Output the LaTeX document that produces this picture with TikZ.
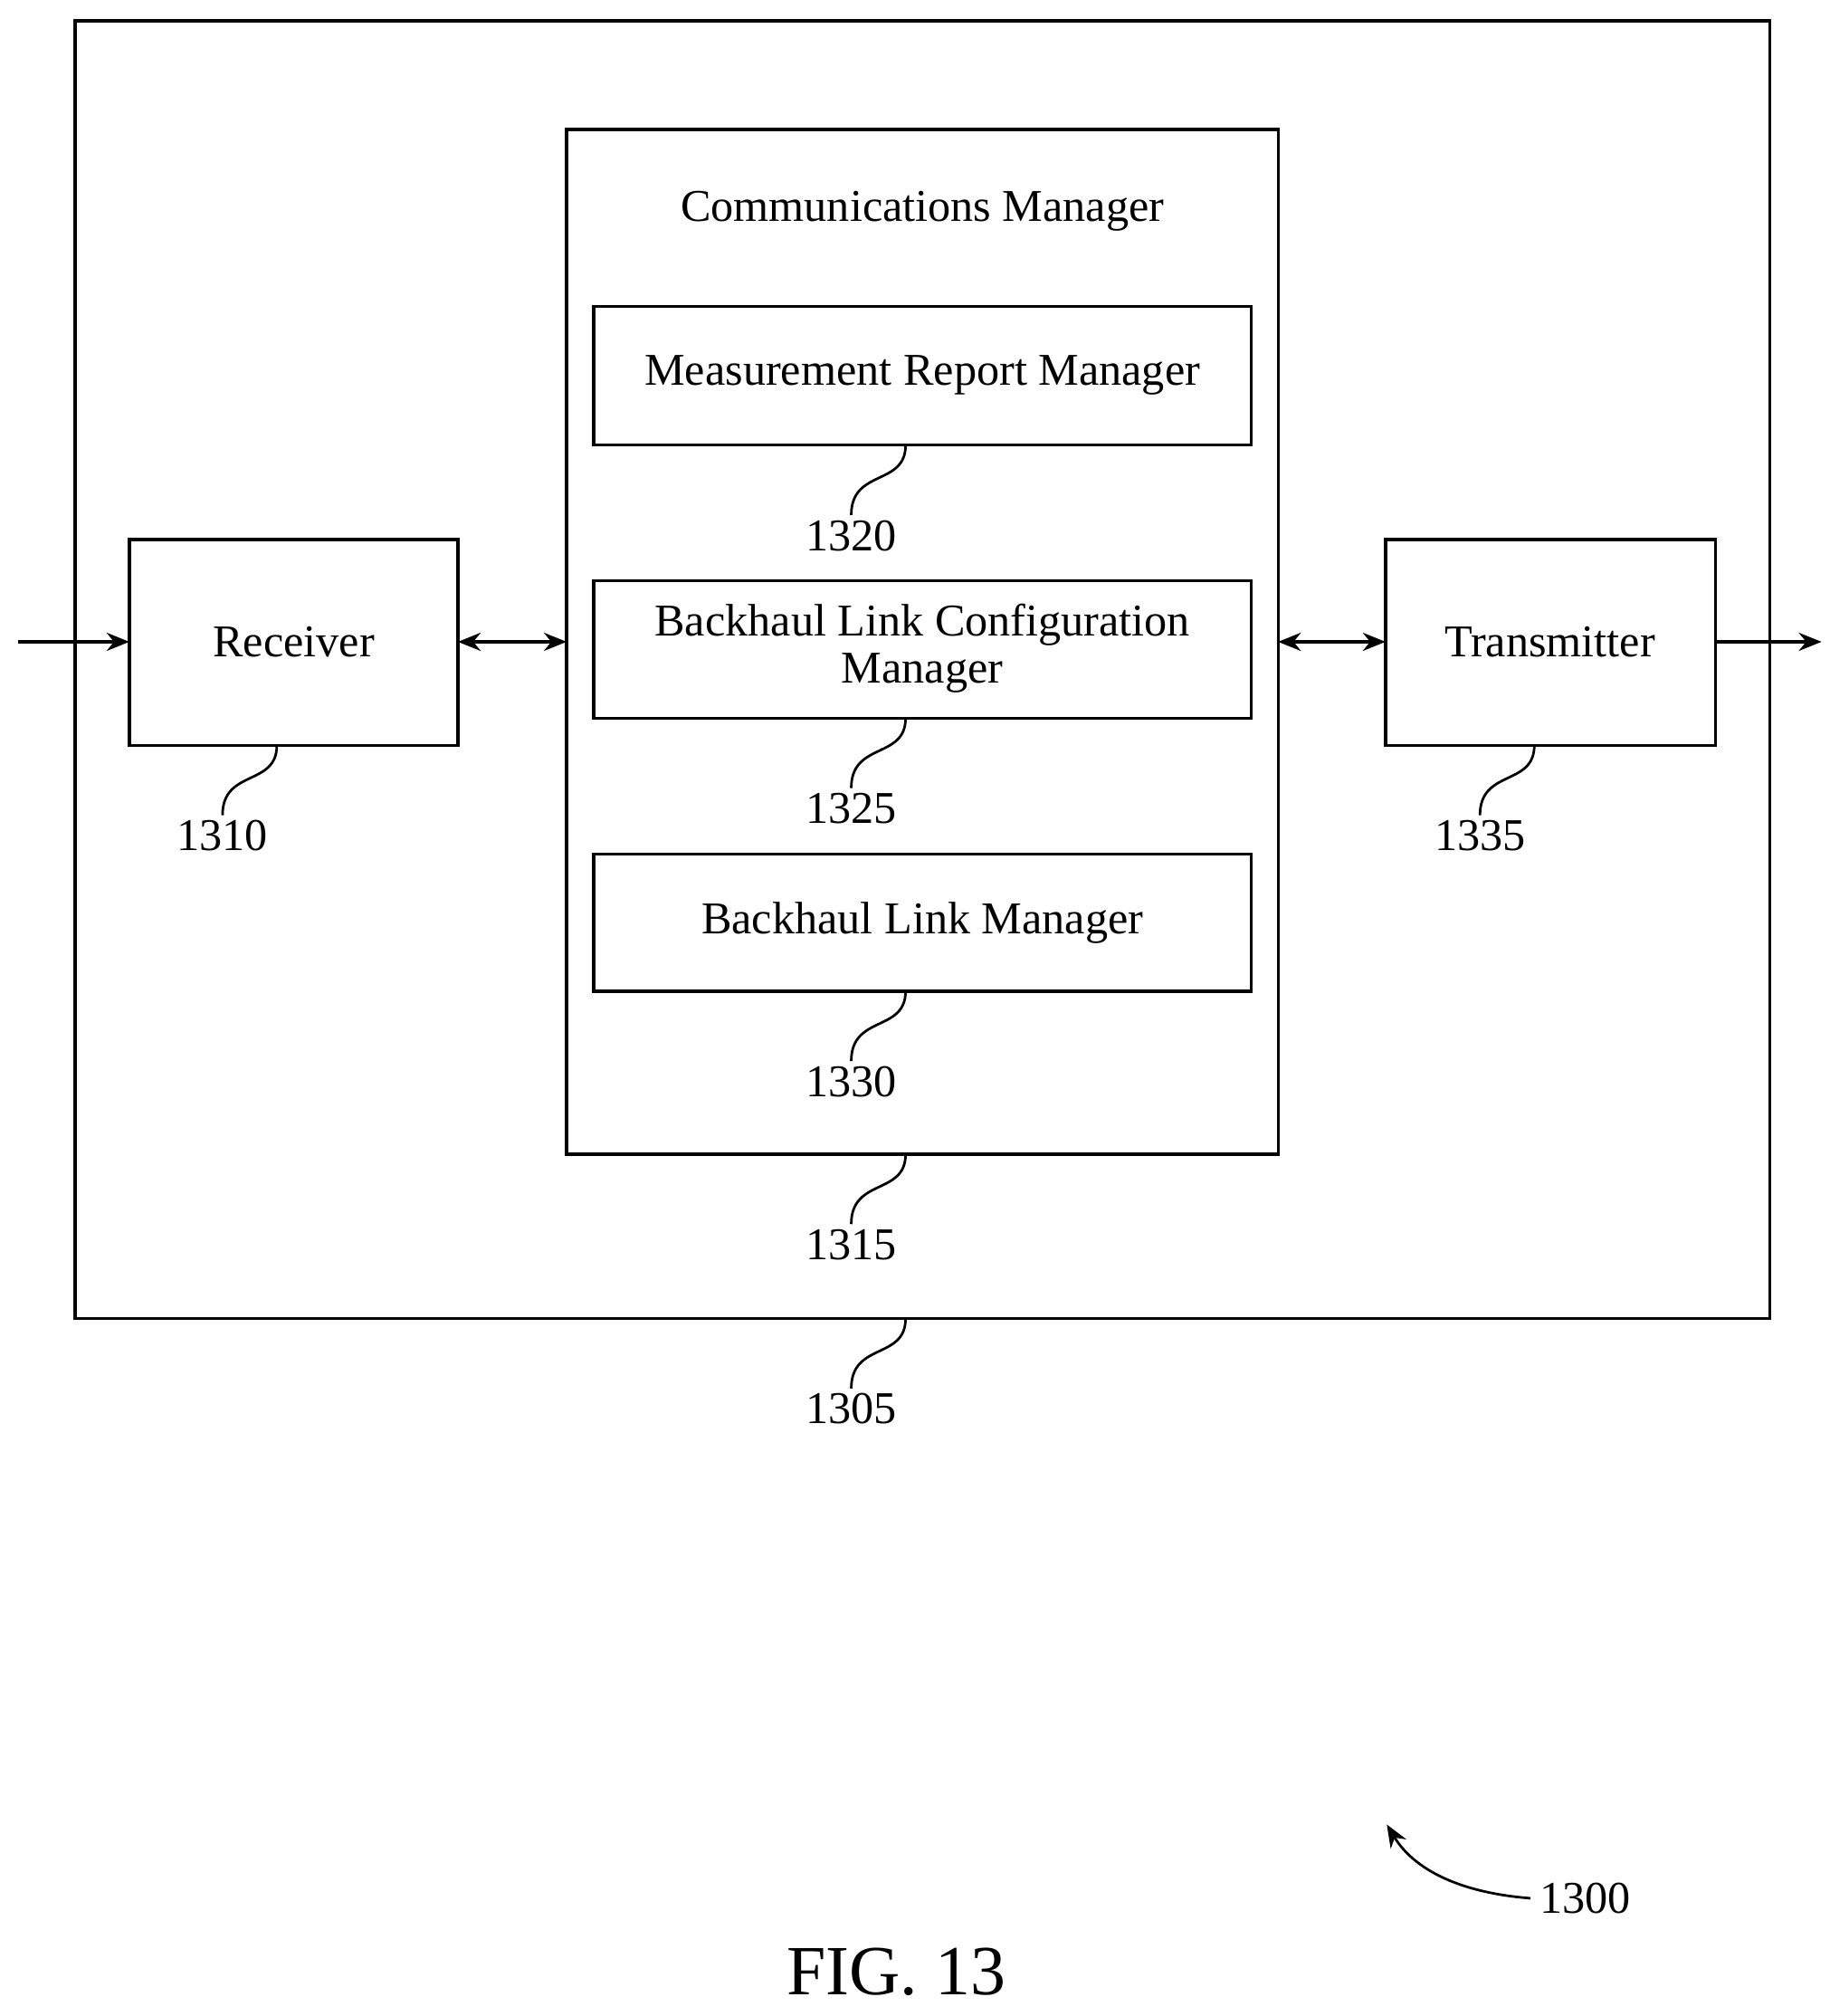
\documentclass[tikz,border=0pt]{standalone}
\usepackage{fontspec}
\setmainfont{Liberation Serif}
\usetikzlibrary{arrows.meta}
\begin{document}
\begin{tikzpicture}[%
    x=0.02cm, y=-0.02cm,
    line width=1.3pt,
    box/.style={draw=black, inner sep=0pt},
    lbl/.style={font=\fontsize{20}{24}\selectfont, align=center},
    num/.style={font=\fontsize{20}{24}\selectfont, anchor=north},
    lead/.style={line width=1.1pt},
    link/.style={{Stealth[length=10pt,width=8pt]}-{Stealth[length=10pt,width=8pt]}},
    feed/.style={-{Stealth[length=10pt,width=8pt]}}
]
    % Page size.
    \useasboundingbox (0,0) rectangle (1414,1558);

    % Outer device and the communications manager.
    \draw[box] (58,16) rectangle (1368,1019);
    \draw[box] (438,100) rectangle (988,892);
    \node[lbl] (cmtitle) at (713,163) {Communications Manager};

    % Inner managers.
    \draw[box] (459,237) rectangle (967,344);
    \node[lbl] (mrm) at (713,290) {Measurement Report Manager};
    \draw[box] (459,449) rectangle (967,555);
    \node[lbl] (blcm) at (713,501) {Backhaul Link Configuration\\[-3pt]Manager};
    \draw[box] (459,660) rectangle (967,766);
    \node[lbl] (blm) at (713,713) {Backhaul Link Manager};

    % Receiver and transmitter.
    \draw[box] (100,417) rectangle (354,576);
    \node[lbl] (rx) at (227,496) {Receiver};
    \draw[box] (1071,417) rectangle (1326,576);
    \node[lbl] (tx) at (1198,496) {Transmitter};

    % Connector end points.
    \coordinate (inL) at (14,496);
    \coordinate (rxL) at (100,496);
    \coordinate (rxR) at (354,496);
    \coordinate (cmL) at (438,496);
    \coordinate (cmR) at (988,496);
    \coordinate (txL) at (1071,496);
    \coordinate (txR) at (1326,496);
    \coordinate (outR) at (1408,496);

    \draw[feed] (inL) -- (rxL);
    \draw[link] (rxR) -- (cmL);
    \draw[link] (cmR) -- (txL);
    \draw[feed] (txR) -- (outR);

    % Reference numerals with leader lines.
    \foreach \x/\y/\n in {700/344/1320, 700/555/1325, 700/766/1330,
                          700/892/1315, 700/1019/1305,
                          214/576/1310, 1186/576/1335}{
        \draw[lead] (\x,\y) .. controls (\x,\y+32) and (\x-42,\y+18) .. (\x-42,\y+54);
        \node[num] (n\n) at (\x-42,\y+51) {\n};
    }

    % Figure numeral.
    \coordinate (figtip) at (1072,1410);
    \node[font=\fontsize{20}{24}\selectfont, anchor=west] (n1300) at (1183,1467) {1300};
    \draw[lead, -{Stealth[length=10pt,width=8pt]}] (n1300.west) .. controls (1120,1462) and (1090,1440) .. (figtip);

    \node[font=\fontsize{31}{36}\selectfont] (fig) at (693,1524) {FIG. 13};
\end{tikzpicture}
\end{document}
